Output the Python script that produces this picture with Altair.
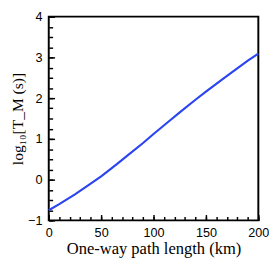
import altair as alt
import pandas as pd

path_km = [0, 10, 25, 40, 50, 65, 75, 90, 100, 115, 125, 140, 150, 165, 175, 190, 200]
log_tm = [-0.75, -0.6, -0.36, -0.1, 0.08, 0.38, 0.59, 0.9, 1.12, 1.44, 1.65, 1.96, 2.16, 2.45, 2.64, 2.92, 3.09]

x_major = [0, 50, 100, 150, 200]
x_minor = list(range(0, 201, 10))
y_major = [-1, 0, 1, 2, 3, 4]
y_minor = [v / 4 for v in range(-4, 17)]

df = pd.DataFrame({"x": path_km, "y": log_tm})

xs = alt.Scale(domain=[0, 200], nice=False, zero=False)
ys = alt.Scale(domain=[-1, 4], nice=False, zero=False)

label_font = "Liberation Sans"
title_font = "Liberation Serif"

line = alt.Chart(df).mark_line(color="#2a45f0", strokeWidth=2.2).encode(
    x=alt.X("x:Q", scale=xs, axis=alt.Axis(
        orient="bottom",
        title="One-way path length (km)", values=x_major, ticks=False, domain=False,
        grid=False, labelFont=label_font, labelFontSize=13, labelColor="black",
        labelPadding=7, titleFont=title_font, titleFontSize=17, titleFontWeight="normal",
        titleColor="black", titlePadding=1, labelFlush=False)),
    y=alt.Y("y:Q", scale=ys, axis=alt.Axis(
        orient="left",
        title="log₁₀[T_M (s)]", values=y_major, ticks=False, domain=False,
        grid=False, labelFont=label_font, labelFontSize=13, labelColor="black",
        labelPadding=7, titleFont=title_font, titleFontSize=16, titleFontWeight="normal",
        titleColor="black", titlePadding=2, labelFlush=False)),
)

def tick_layer(xvals, yvals, size):
    return alt.Chart(df).mark_line(opacity=0).encode(
        x=alt.X("x:Q", scale=xs, axis=alt.Axis(
            orient="bottom",
            title=None, values=xvals, labels=False, domain=False, grid=False,
            ticks=True, tickSize=size, tickColor="black", tickWidth=1.5, offset=-size)),
        y=alt.Y("y:Q", scale=ys, axis=alt.Axis(
            orient="left",
            title=None, values=yvals, labels=False, domain=False, grid=False,
            ticks=True, tickSize=size, tickColor="black", tickWidth=1.5, offset=-size)),
    )

chart = alt.layer(
    tick_layer(x_minor, y_minor, 4),
    tick_layer(x_major, y_major, 6),
    line,
).resolve_axis(x="independent", y="independent").properties(
    width=216, height=210,
    autosize=alt.AutoSizeParams(type="none"),
    padding={"left": 42, "top": 5, "right": 11, "bottom": 40},
).configure_view(stroke="black", strokeWidth=2).configure_axis(
    titleFont=title_font, labelFont=label_font
)

chart.save("out.html", embed_options={"renderer": "svg", "actions": False})
